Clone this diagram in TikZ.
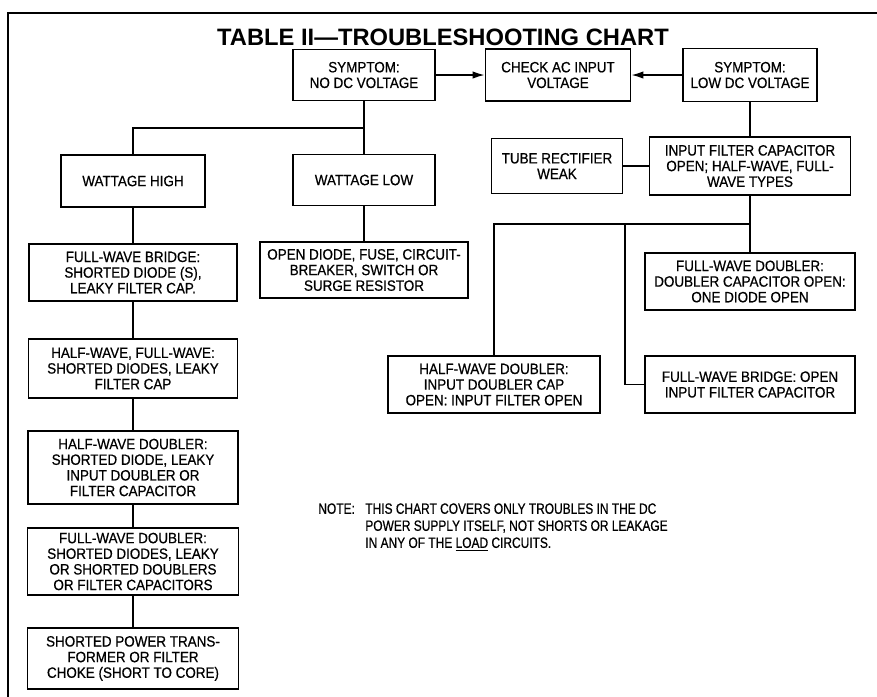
\documentclass[tikz,border=0pt]{standalone}
\usepackage{fontspec}
\setmainfont{Liberation Sans}
\newfontfamily\boxfont[FakeStretch=0.9, FakeBold=0.6]{Liberation Sans}
\newfontfamily\notefont[FakeStretch=0.8, FakeBold=0.6]{Liberation Sans}
\usetikzlibrary{arrows.meta}
\begin{document}
\begin{tikzpicture}[x=0.02cm, y=-0.02cm,
  box/.style={draw, line width=1.1pt, align=center, inner sep=1pt, font=\boxfont\fontsize{8.5}{8.9}\selectfont},
  wire/.style={line width=0.8pt},
  arr/.style={line width=0.8pt, -{Latex[length=2.4mm,width=1.5mm]}}]
\useasboundingbox (0,0) rectangle (877,697);
\draw[line width=1.2pt] (877,13) -- (8,13) -- (8,697);
\node[font=\fontsize{13.5}{15}\selectfont\bfseries] (title) at (443,37) {TABLE II—TROUBLESHOOTING CHART};
\node[box, minimum width=2.84cm, minimum height=1.02cm] (nodc) at (364,75) {SYMPTOM:\\NO DC VOLTAGE};
\node[box, minimum width=2.90cm, minimum height=1.04cm] (chk) at (558,75) {CHECK AC INPUT\\VOLTAGE};
\node[box, minimum width=2.68cm, minimum height=1.06cm] (lowdc) at (750,75) {SYMPTOM:\\LOW DC VOLTAGE};
\node[box, minimum width=2.88cm, minimum height=1.04cm] (whi) at (133,181) {WATTAGE HIGH};
\node[box, minimum width=2.84cm, minimum height=1.02cm] (wlo) at (364,180) {WATTAGE LOW};
\node[box, minimum width=2.62cm, minimum height=1.10cm] (tube) at (557,166) {TUBE RECTIFIER\\WEAK};
\node[box, minimum width=4.02cm, minimum height=1.16cm] (inf) at (750,166) {INPUT FILTER CAPACITOR\\OPEN; HALF-WAVE, FULL-\\WAVE TYPES};
\node[box, minimum width=4.16cm, minimum height=1.14cm] (fwb) at (133,272.5) {FULL-WAVE BRIDGE:\\SHORTED DIODE (S),\\LEAKY FILTER CAP.};
\node[box, minimum width=4.16cm, minimum height=1.12cm] (opd) at (364,270) {OPEN DIODE, FUSE, CIRCUIT-\\BREAKER, SWITCH OR\\SURGE RESISTOR};
\node[box, minimum width=4.18cm, minimum height=1.18cm] (hwfw) at (133,368.5) {HALF-WAVE, FULL-WAVE:\\SHORTED DIODES, LEAKY\\FILTER CAP};
\node[box, minimum width=4.20cm, minimum height=1.46cm] (hwd) at (133,467.5) {HALF-WAVE DOUBLER:\\SHORTED DIODE, LEAKY\\INPUT DOUBLER OR\\FILTER CAPACITOR};
\node[box, minimum width=4.22cm, minimum height=1.34cm] (fwd) at (133,561.5) {FULL-WAVE DOUBLER:\\SHORTED DIODES, LEAKY\\OR SHORTED DOUBLERS\\OR FILTER CAPACITORS};
\node[box, minimum width=4.22cm, minimum height=1.22cm] (spt) at (133,658.5) {SHORTED POWER TRANS-\\FORMER OR FILTER\\CHOKE (SHORT TO CORE)};
\node[box, minimum width=4.20cm, minimum height=1.14cm] (fwd2) at (750,281.5) {FULL-WAVE DOUBLER:\\DOUBLER CAPACITOR OPEN:\\ONE DIODE OPEN};
\node[box, minimum width=4.24cm, minimum height=1.14cm] (hwd2) at (494,384.5) {HALF-WAVE DOUBLER:\\INPUT DOUBLER CAP\\OPEN: INPUT FILTER OPEN};
\node[box, minimum width=4.20cm, minimum height=1.14cm] (fwb2) at (750,384.5) {FULL-WAVE BRIDGE: OPEN\\INPUT FILTER CAPACITOR};
\node[anchor=north west, inner sep=0pt, font=\notefont\fontsize{8.5}{9.7}\selectfont] (notelbl) at (318,503) {NOTE:};
\node[anchor=north west, inner sep=0pt, align=left, font=\notefont\fontsize{8.5}{9.7}\selectfont] (note) at (365,503) {THIS CHART COVERS ONLY TROUBLES IN THE DC\\POWER SUPPLY ITSELF, NOT SHORTS OR LEAKAGE\\IN ANY OF THE \underline{LOAD} CIRCUITS.};
\coordinate (splitA) at (364,128);
\coordinate (splitB) at (750,224);
\coordinate (midB) at (625,224);
\draw[arr] (nodc) -- (chk);
\draw[arr] (lowdc) -- (chk);
\draw[wire] (nodc) -- (wlo);
\draw[wire] (whi.north) |- (splitA);
\draw[wire] (whi) -- (fwb);
\draw[wire] (fwb) -- (hwfw);
\draw[wire] (hwfw) -- (hwd);
\draw[wire] (hwd) -- (fwd);
\draw[wire] (fwd) -- (spt);
\draw[wire] (wlo) -- (opd);
\draw[wire] (lowdc) -- (inf);
\draw[wire] (tube) -- (inf);
\draw[wire] (inf) -- (fwd2);
\draw[wire] (hwd2.north) |- (splitB);
\draw[wire] (midB) |- (fwb2.west);
\end{tikzpicture}
\end{document}
